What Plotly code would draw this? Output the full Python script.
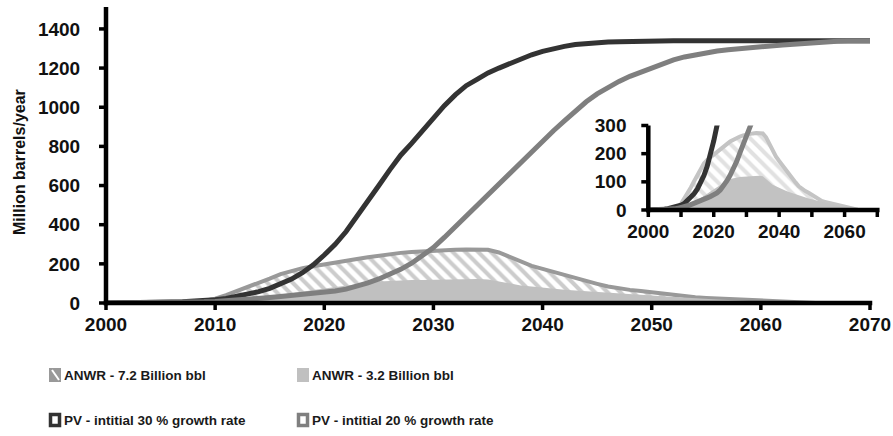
import plotly.graph_objects as go

# ---------------------------------------------------------------- data
years = list(range(2000, 2071))

# PV displacement, million barrels/year
pv_30 = [0, 0, 0, 0, 1, 3, 5, 7, 9, 12,
         17, 23, 33, 45, 58, 75, 96, 122, 155, 195,
         245, 300, 365, 440, 515, 600, 680, 755, 815, 880,
         945, 1008, 1063, 1110, 1142, 1175, 1200, 1225, 1247, 1268,
         1285, 1300, 1311, 1320, 1326, 1330, 1333, 1335, 1337, 1338,
         1339, 1339, 1339, 1339, 1339, 1339, 1339, 1339, 1339, 1339,
         1339, 1339, 1339, 1339, 1339, 1339, 1339, 1339, 1339, 1339, 1339]

pv_20 = [0, 0, 0, 0, 0, 1, 2, 3, 4, 6,
         8, 11, 15, 19, 23, 28, 33, 38, 43, 48,
         54, 61, 71, 85, 103, 123, 146, 172, 203, 240,
         283, 335, 390, 443, 495, 550, 605, 660, 717, 772,
         828, 880, 930, 980, 1028, 1068, 1102, 1132, 1158, 1180,
         1200, 1222, 1242, 1257, 1269, 1279, 1287, 1294, 1300, 1305,
         1310, 1314, 1318, 1322, 1327, 1332, 1335, 1337, 1338, 1338, 1338]

# ANWR production scenarios, million barrels/year
anwr_72 = [0, 0, 0, 0, 0, 0, 0, 1, 4, 10,
           22, 40, 60, 80, 102, 125, 148, 165, 178, 188,
           196, 205, 215, 225, 234, 243, 250, 256, 261, 265,
           268, 270, 272, 273, 273, 272, 258, 235, 210, 190,
           174, 158, 143, 128, 113, 98, 84, 74, 67, 61,
           54, 46, 38, 32, 29, 26, 23, 20, 17, 14,
           11, 8, 5, 3, 1, 0, 0, 0, 0, 0, 0]

anwr_32 = [0, 0, 0, 0, 0, 0, 0, 0, 2, 4,
           7, 11, 15, 20, 27, 35, 42, 50, 58, 66,
           74, 82, 90, 97, 104, 110, 113, 115, 117, 118,
           119, 120, 121, 122, 122, 120, 110, 98, 90, 84,
           78, 73, 68, 64, 60, 55, 51, 47, 44, 41,
           38, 35, 31, 28, 25, 22, 18, 15, 12, 9,
           6, 4, 2, 0, 0, 0, 0, 0, 0, 0, 0]

labels = ["ANWR - 7.2 Billion bbl", "ANWR - 3.2 Billion bbl",
          "PV - intitial 30 % growth rate", "PV - intitial 20 % growth rate"]

main_x_ticks = list(range(2000, 2071, 10))
main_y_ticks = [0, 200, 400, 600, 800, 1000, 1200, 1400]
inset_x_ticks = list(range(2000, 2071, 10))
inset_y_ticks = [0, 100, 200, 300]

# ---------------------------------------------------------------- styles
W, H = 893, 436
ML, MR, MT, MB = 106, 10, 7, 133
PW, PH = W - ML - MR, H - MT - MB

DARK = "#333333"
MID = "#7f7f7f"
HATCH = "#999999"
SOLID = "#c0c0c0"
AXIS_W = 4.5
TICK_W = 3.5
TICK_FONT = dict(family="Liberation Sans, Arial, sans-serif", size=19,
                 color="#111111", weight="bold")
LEG_FONT = dict(family="Liberation Sans, Arial, sans-serif", size=13.5,
                color="#1a1a1a", weight="bold")


def px_x(p):
    return (p - ML) / PW


def px_y(p):
    return (H - MB - p) / PH


X_RANGE = [2000, 2070]
MAIN_XDOM = [0, (870 - ML) / PW]
MAIN_YDOM = [0, 1]
MAIN_YRANGE = [0, 1512]
INSET_XDOM = [px_x(648.3), px_x(877.3)]
INSET_YDOM = [px_y(210), px_y(125.5)]
INSET_YRANGE = [0, 300]

fig = go.Figure()


def add_series(xa, ya, hatch_col, solid_col):
    fig.add_trace(go.Scatter(
        x=years, y=anwr_72, xaxis=xa, yaxis=ya, mode="lines",
        line=dict(color=hatch_col, width=4), fill="tozeroy",
        fillpattern=dict(shape="\\", fgcolor=hatch_col, bgcolor="white",
                         size=9, solidity=0.45),
        showlegend=False, hoverinfo="skip"))
    fig.add_trace(go.Scatter(
        x=years, y=anwr_32, xaxis=xa, yaxis=ya, mode="lines",
        line=dict(color=solid_col, width=0), fill="tozeroy", fillcolor=solid_col,
        showlegend=False, hoverinfo="skip"))
    fig.add_trace(go.Scatter(
        x=years, y=pv_30, xaxis=xa, yaxis=ya, mode="lines",
        line=dict(color=DARK, width=5), showlegend=False, hoverinfo="skip"))
    fig.add_trace(go.Scatter(
        x=years, y=pv_20, xaxis=xa, yaxis=ya, mode="lines",
        line=dict(color=MID, width=5), showlegend=False, hoverinfo="skip"))


add_series("x", "y", HATCH, SOLID)
add_series("x2", "y2", "#c4c4c4", "#c2c2c2")

# axis spines and tick marks are drawn as solid black bars below; the native
# ticks stay invisible and only position the labels
axis_common = dict(showgrid=False, zeroline=False, showline=False,
                   ticks="outside", tickcolor="rgba(0,0,0,0)",
                   tickfont=TICK_FONT, automargin=False)

fig.update_layout(
    width=W, height=H,
    margin=dict(l=ML, r=MR, t=MT, b=MB, pad=0, autoexpand=False),
    paper_bgcolor="white", plot_bgcolor="rgba(0,0,0,0)",
    xaxis=dict(domain=MAIN_XDOM, range=X_RANGE, tickmode="array",
               tickvals=main_x_ticks, ticklen=4, ticklabelstandoff=0, **axis_common),
    yaxis=dict(domain=MAIN_YDOM, range=MAIN_YRANGE, tickmode="array",
               tickvals=main_y_ticks, ticklen=7, ticklabelstandoff=14, **axis_common),
    xaxis2=dict(domain=INSET_XDOM, range=X_RANGE, anchor="y2",
                tickmode="array", tickvals=inset_x_ticks[::2], ticklen=4,
                ticklabelstandoff=0, **axis_common),
    yaxis2=dict(domain=INSET_YDOM, range=INSET_YRANGE, anchor="x2",
                tickmode="array", tickvals=inset_y_ticks, ticklen=7,
                ticklabelstandoff=10, **axis_common),
    showlegend=False,
)


def lerp(v, rng, dom):
    return dom[0] + (v - rng[0]) / (rng[1] - rng[0]) * (dom[1] - dom[0])


shapes = []


def bar(x0, x1, y0, y1):
    shapes.append(dict(type="rect", xref="paper", yref="paper", x0=x0, x1=x1,
                       y0=y0, y1=y1, fillcolor="#000000", line=dict(width=0),
                       layer="above"))


def draw_axes(xdom, ydom, yrng, xticks, yticks, tick_px=7):
    tx = tick_px / PW
    ty = tick_px / PH
    hx = AXIS_W / 2 / PW
    hy = AXIS_W / 2 / PH
    kx = TICK_W / 2 / PW
    ky = TICK_W / 2 / PH
    for t in xticks:
        xp = lerp(t, X_RANGE, xdom)
        bar(xp - kx, xp + kx, ydom[0], ydom[0] - ty)
    for t in yticks:
        yp = lerp(t, yrng, ydom)
        bar(xdom[0] - tx, xdom[0], yp - ky, yp + ky)
    bar(xdom[0] - hx, xdom[0] + hx, ydom[0] - hy, ydom[1])
    bar(xdom[0] - hx, xdom[1] + hx, ydom[0] - hy, ydom[0] + hy)


draw_axes(MAIN_XDOM, MAIN_YDOM, MAIN_YRANGE, main_x_ticks, main_y_ticks)
draw_axes(INSET_XDOM, INSET_YDOM, INSET_YRANGE, inset_x_ticks, inset_y_ticks)

# y-axis title
fig.add_annotation(text="Million barrels/year", textangle=-90,
                   xref="paper", yref="paper", x=px_x(19), y=px_y(162),
                   xanchor="center", yanchor="middle", showarrow=False,
                   font=dict(family="Liberation Sans, Arial, sans-serif", size=16,
                             color="#111111", weight="bold"))

# ---------------------------------------------------------------- legend
leg_rows = [375, 420]
leg_cols = [(49, 62), (297, 310)]
slots = [(0, 0), (0, 1), (1, 0), (1, 1)]

for (r, c), label in zip(slots, labels):
    cy = leg_rows[r]
    sx, tx = leg_cols[c]
    x0, x1 = px_x(sx), px_x(sx + 12)
    y0, y1 = px_y(cy + 7), px_y(cy - 7)
    if label == labels[0]:
        shapes.append(dict(type="rect", xref="paper", yref="paper", x0=x0, x1=x1,
                           y0=y0, y1=y1, fillcolor=HATCH, line=dict(width=0)))
        shapes.append(dict(type="line", xref="paper", yref="paper",
                           x0=px_x(sx + 3), x1=px_x(sx + 10),
                           y0=px_y(cy - 5), y1=px_y(cy + 5),
                           line=dict(color="white", width=2)))
    elif label == labels[1]:
        shapes.append(dict(type="rect", xref="paper", yref="paper", x0=x0, x1=x1,
                           y0=y0, y1=y1, fillcolor=SOLID, line=dict(width=0)))
    else:
        col = DARK if label == labels[2] else MID
        shapes.append(dict(type="rect", xref="paper", yref="paper",
                           x0=px_x(sx + 1.5), x1=px_x(sx + 10.5),
                           y0=px_y(cy + 5.5), y1=px_y(cy - 5.5),
                           fillcolor="white", line=dict(color=col, width=3.5)))
    fig.add_annotation(text=label, xref="paper", yref="paper",
                       x=px_x(tx), y=px_y(cy), xanchor="left", yanchor="middle",
                       showarrow=False, font=LEG_FONT)

fig.update_layout(shapes=shapes)

fig.write_html("out.html")
